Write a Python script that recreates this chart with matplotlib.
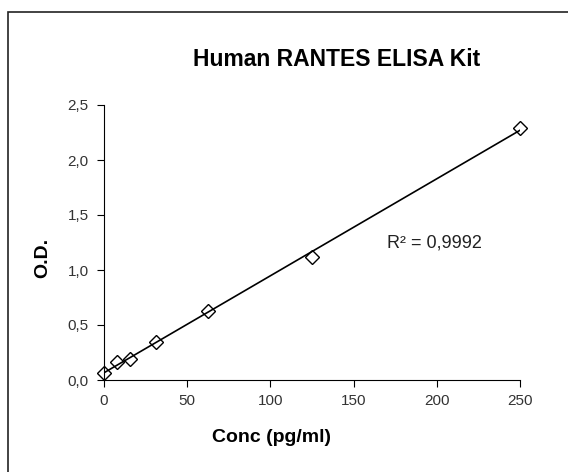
import numpy as np
import matplotlib.pyplot as plt
from matplotlib.patches import Rectangle
from matplotlib.ticker import FuncFormatter

plt.rcParams['font.family'] = ['Liberation Sans', 'DejaVu Sans']

# standard concentrations and measured optical density
conc = [0, 7.8, 15.6, 31.25, 62.5, 125, 250]
od = [0.06, 0.16, 0.19, 0.35, 0.63, 1.12, 2.29]
x_ticks = [0, 50, 100, 150, 200, 250]
y_ticks = [0.0, 0.5, 1.0, 1.5, 2.0, 2.5]

fig = plt.figure(figsize=(5.68, 4.72), dpi=100)
fig.patches.append(Rectangle((8 / 568, -0.1), 1.2, 1 - 12 / 472 + 0.1,
                             transform=fig.transFigure, fill=False,
                             edgecolor='#222222', linewidth=1.2))

ax = fig.add_axes([104 / 568, 1 - 380 / 472, 416 / 568, 275 / 472])

# linear trendline
slope, icpt = np.polyfit(conc, od, 1)
xl = np.array([0, 250])
ax.plot(xl, slope * xl + icpt, color='black', linewidth=1.2)
ax.plot(conc, od, linestyle='none', marker='D', markersize=7.5,
        markerfacecolor='none', markeredgecolor='black', markeredgewidth=1,
        clip_on=False)

ax.set_xlim(0, 250)
ax.set_ylim(0, 2.5)
ax.set_xticks(x_ticks)
ax.set_yticks(y_ticks)
ax.yaxis.set_major_formatter(FuncFormatter(lambda v, p: f"{v:.1f}".replace('.', ',')))
ax.spines['top'].set_visible(False)
ax.spines['right'].set_visible(False)
ax.tick_params(labelsize=11, length=5, color='black', labelcolor='#333333')
ax.tick_params(axis='x', pad=5)
ax.tick_params(axis='y', pad=6)

ax.text(170, 1.245, "R² = 0,9992", fontsize=13, color='#222222', va='center')

fig.text(337 / 568, 1 - 60 / 472, "Human RANTES ELISA Kit", fontsize=16.5,
         fontweight='bold', ha='center', va='center')
fig.text(271 / 568, 1 - 437 / 472, "Conc (pg/ml)", fontsize=14,
         fontweight='bold', ha='center', va='center')
fig.text(43 / 568, 1 - 258 / 472, "O.D.", fontsize=14, fontweight='bold',
         ha='center', va='center', rotation=90)

plt.savefig("out.png", dpi=100)
